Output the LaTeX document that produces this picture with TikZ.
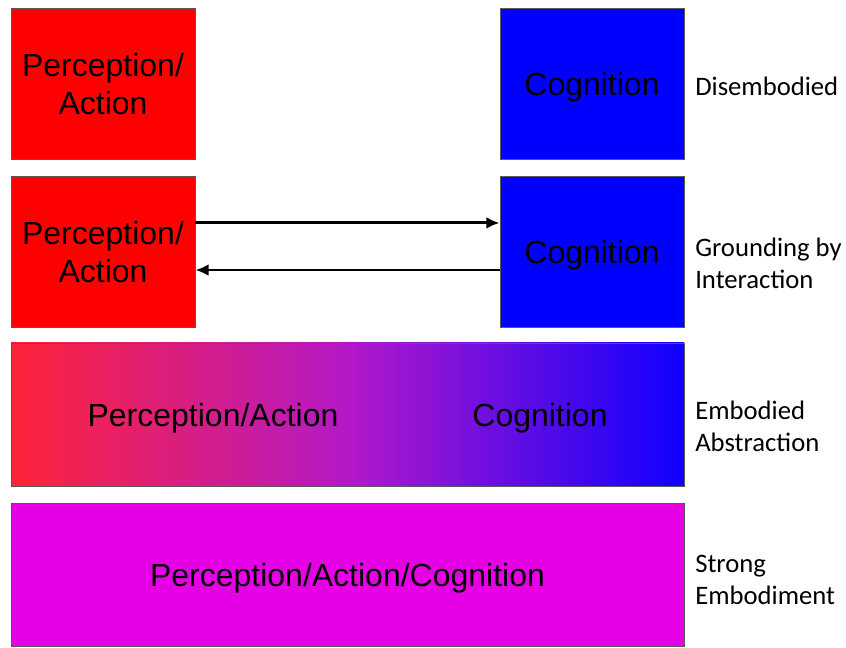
\documentclass[tikz,border=0pt]{standalone}
\usepackage{fontspec}
\setmainfont{Liberation Sans}
\newfontfamily\labelfont{Carlito}
\usepackage{tikz}
\usetikzlibrary{arrows.meta}

\definecolor{boxred}{RGB}{255,0,0}
\definecolor{boxblue}{RGB}{0,0,255}
\definecolor{boxmag}{RGB}{230,0,230}
\definecolor{gradred}{RGB}{255,35,55}
\definecolor{gradmid}{RGB}{180,25,200}
\definecolor{gradblue}{RGB}{15,0,255}

\begin{document}
\begin{tikzpicture}[x=0.75pt,y=-0.75pt,
    box/.style={draw=black!65,line width=0.6pt,inner sep=0pt,align=center,
        text depth=0pt,font=\fontsize{24}{28.5}\selectfont},
    smallbox/.style={box,minimum width=138pt,minimum height=113.25pt},
    widebox/.style={box,minimum width=504.75pt,minimum height=107.25pt},
    boxtext/.style={inner sep=0pt,text depth=0pt,font=\fontsize{24}{28.5}\selectfont},
    rowlabel/.style={anchor=west,inner sep=0pt,align=left,
        font=\labelfont\fontsize{20}{24}\selectfont},
    arr/.style={-{Latex[length=10pt,width=9pt]},line width=2.2pt}]

    \useasboundingbox (0,0) rectangle (846,648);

    % disembodied
    \node[smallbox,fill=boxred] (pa1) at (103,83.5) {Perception/\\Action};
    \node[smallbox,fill=boxblue] (cog1) at (592,83.5) {Cognition};
    \node[rowlabel] (lab1) at (695,86) {Disembodied};

    % grounding by interaction
    \node[smallbox,fill=boxred] (pa2) at (103,251.5) {Perception/\\Action};
    \node[smallbox,fill=boxblue] (cog2) at (592,251.5) {Cognition};
    \node[rowlabel] (lab2) at (695,263) {Grounding by\\Interaction};
    \draw[arr] ([yshift=21.4pt]pa2.east) -- ([yshift=21.4pt]cog2.west);
    \draw[arr] ([yshift=-13.9pt]cog2.west) -- ([yshift=-13.9pt]pa2.east);

    % embodied abstraction
    \node[widebox,left color=gradred,right color=gradblue,middle color=gradmid] (emb) at (347.5,414.5) {};
    \node[boxtext] (pa3) at (213,415) {Perception/Action};
    \node[boxtext] (cog3) at (540,415) {Cognition};
    \node[rowlabel] (lab3) at (695,426) {Embodied\\Abstraction};

    % strong embodiment
    \node[widebox,fill=boxmag] (pac) at (347.5,574.5) {Perception/Action/Cognition};
    \node[rowlabel] (lab4) at (695,580) {Strong\\Embodiment};
\end{tikzpicture}
\end{document}
